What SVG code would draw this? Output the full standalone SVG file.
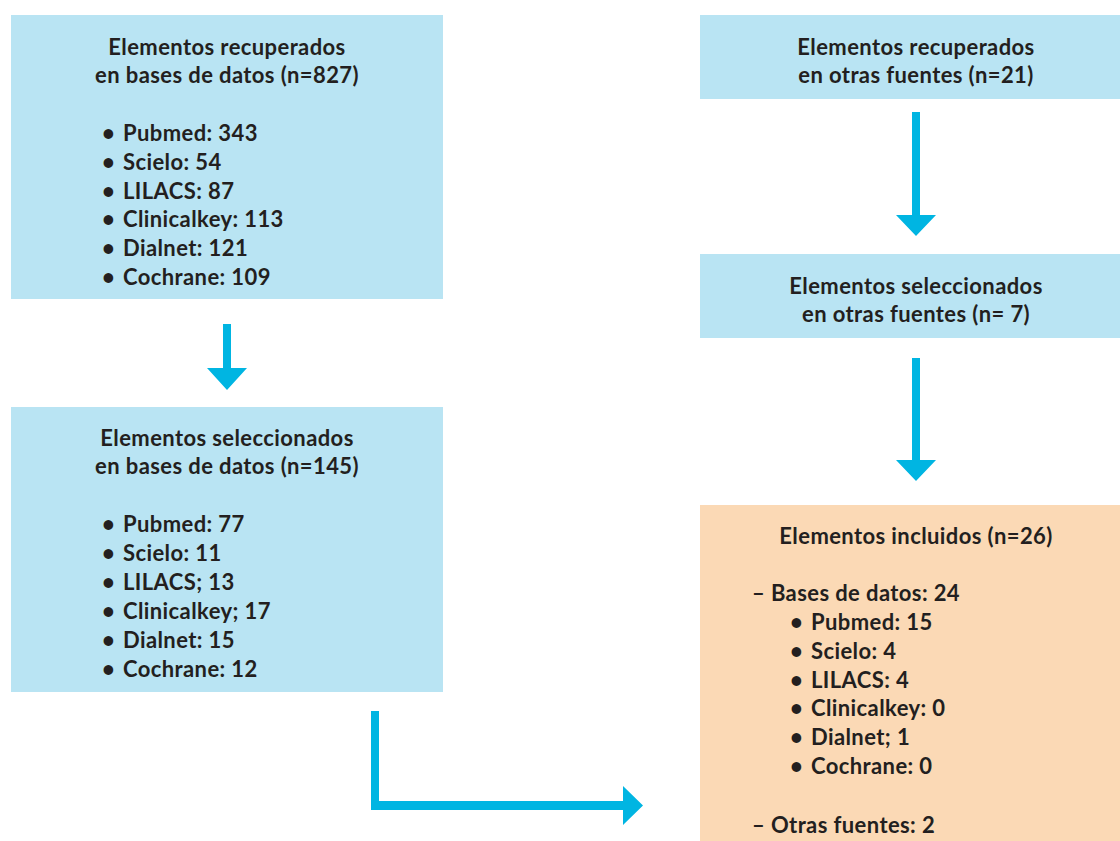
<svg xmlns="http://www.w3.org/2000/svg" width="1120" height="841" viewBox="0 0 1120 841">
<style>
.blue{fill:#b9e4f3}
.orange{fill:#fbd9b5}
.t{font-family:Lato,"Liberation Sans",sans-serif;font-weight:700;font-size:22px;letter-spacing:0.4px;fill:#231f20}
.c{text-anchor:middle}
.arr{fill:#00b5e2}
</style>
<rect width="1120" height="841" fill="#ffffff"/>
<g id="db-recuperados">
<rect class="blue" x="11" y="15" width="432" height="284"/>
<text class="t c" x="227" y="55">Elementos recuperados</text>
<text class="t c" x="227" y="83">en bases de datos (n=827)</text>
<text class="t" x="102" y="141">•</text><text class="t" x="123" y="141">Pubmed: 343</text>
<text class="t" x="102" y="170">•</text><text class="t" x="123" y="170">Scielo: 54</text>
<text class="t" x="102" y="199">•</text><text class="t" x="123" y="199">LILACS: 87</text>
<text class="t" x="102" y="227">•</text><text class="t" x="123" y="227">Clinicalkey: 113</text>
<text class="t" x="102" y="256">•</text><text class="t" x="123" y="256">Dialnet: 121</text>
<text class="t" x="102" y="285">•</text><text class="t" x="123" y="285">Cochrane: 109</text>
</g>
<g id="db-seleccionados">
<rect class="blue" x="11" y="407" width="432" height="285"/>
<text class="t c" x="227" y="446">Elementos seleccionados</text>
<text class="t c" x="227" y="474">en bases de datos (n=145)</text>
<text class="t" x="102" y="532">•</text><text class="t" x="123" y="532">Pubmed: 77</text>
<text class="t" x="102" y="561">•</text><text class="t" x="123" y="561">Scielo: 11</text>
<text class="t" x="102" y="590">•</text><text class="t" x="123" y="590">LILACS; 13</text>
<text class="t" x="102" y="619">•</text><text class="t" x="123" y="619">Clinicalkey; 17</text>
<text class="t" x="102" y="648">•</text><text class="t" x="123" y="648">Dialnet: 15</text>
<text class="t" x="102" y="677">•</text><text class="t" x="123" y="677">Cochrane: 12</text>
</g>
<g id="otras-recuperados">
<rect class="blue" x="700" y="15" width="420" height="84"/>
<text class="t c" x="916" y="55">Elementos recuperados</text>
<text class="t c" x="916" y="83">en otras fuentes (n=21)</text>
</g>
<g id="otras-seleccionados">
<rect class="blue" x="700" y="254" width="420" height="84"/>
<text class="t c" x="916" y="294">Elementos seleccionados</text>
<text class="t c" x="916" y="322">en otras fuentes (n= 7)</text>
</g>
<g id="incluidos">
<rect class="orange" x="700" y="505" width="420" height="336"/>
<text class="t c" x="916" y="544">Elementos incluidos (n=26)</text>
<text class="t" x="752" y="601">– Bases de datos: 24</text>
<text class="t" x="790" y="630">•</text><text class="t" x="811" y="630">Pubmed: 15</text>
<text class="t" x="790" y="659">•</text><text class="t" x="811" y="659">Scielo: 4</text>
<text class="t" x="790" y="688">•</text><text class="t" x="811" y="688">LILACS: 4</text>
<text class="t" x="790" y="716">•</text><text class="t" x="811" y="716">Clinicalkey: 0</text>
<text class="t" x="790" y="745">•</text><text class="t" x="811" y="745">Dialnet; 1</text>
<text class="t" x="790" y="774">•</text><text class="t" x="811" y="774">Cochrane: 0</text>
<text class="t" x="752" y="833">– Otras fuentes: 2</text>
</g>
<g id="connectors">
<polygon class="arr" points="223,324 231,324 231,368 247,368 227,390 207,368 223,368"/>
<polygon class="arr" points="912,112 920,112 920,215 936,215 916,236 896,215 912,215"/>
<polygon class="arr" points="912,358 920,358 920,460 936,460 916,481 896,460 912,460"/>
<polygon class="arr" points="371,711 379,711 379,801 623,801 623,786 643,805.5 623,825 623,810 371,810"/>
</g>
</svg>
